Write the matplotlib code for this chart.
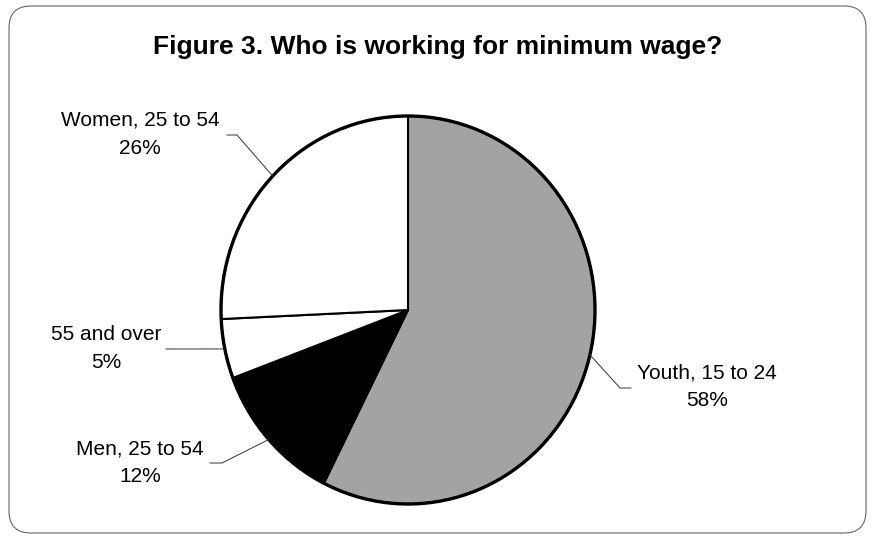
import numpy as np
import matplotlib.pyplot as plt
from matplotlib.patches import FancyBboxPatch, Ellipse

plt.rcParams['font.family'] = ['Liberation Sans', 'DejaVu Sans']

# data
groups = ["Youth, 15 to 24", "Men, 25 to 54", "55 and over", "Women, 25 to 54"]
shares = [58, 12, 5, 26]
colours = ["#a3a3a3", "#000000", "#ffffff", "#ffffff"]

W, H = 875, 539
fig = plt.figure(figsize=(W / 100, H / 100), dpi=100)

# pie geometry in pixels (scanned chart is slightly taller than wide)
cx, cy = 408, 310
rx, ry = 187, 194
pad = 1.05
pie_ax = fig.add_axes([(cx - rx * pad) / W, (H - cy - ry * pad) / H,
                       2 * rx * pad / W, 2 * ry * pad / H])
wedges, _ = pie_ax.pie(shares, colors=colours, startangle=90, counterclock=False,
                       wedgeprops=dict(edgecolor="black", linewidth=1.5))
pie_ax.set_aspect("auto")
pie_ax.set_xlim(-pad, pad)
pie_ax.set_ylim(-pad, pad)
pie_ax.add_patch(Ellipse((0, 0), 2, 2, fill=False, edgecolor="black", linewidth=2.4))

# overlay in pixel coordinates
ax = fig.add_axes([0, 0, 1, 1], facecolor="none")
ax.set_xlim(0, W)
ax.set_ylim(H, 0)
ax.axis("off")

ax.add_patch(FancyBboxPatch((9, 6), W - 18, H - 12,
                            boxstyle="round,pad=0,rounding_size=22",
                            fill=False, edgecolor="#666666", linewidth=0.8))

ax.text(W / 2, 47, "Figure 3. Who is working for minimum wage?",
        ha="center", va="center", fontsize=19, fontweight="bold")

# label layout: text centre, leader elbow points
label_pos = [(707, 387), (140, 463), (106, 348), (140, 134)]
elbows = [[(620, 388), (631, 388)],
          [(222, 463), (210, 463)],
          [(166, 349)],
          [(237, 135), (227, 135)]]

for w, name, val, (tx, ty), elb in zip(wedges, groups, shares, label_pos, elbows):
    mid = np.deg2rad((w.theta1 + w.theta2) / 2)
    ex = cx + rx * np.cos(mid)
    ey = cy - ry * np.sin(mid)
    pts = [(ex, ey)] + elb
    ax.plot([p[0] for p in pts], [p[1] for p in pts], color="#333333", linewidth=0.7)
    ax.text(tx, ty, f"{name}\n{val}%", ha="center", va="center",
            fontsize=15, linespacing=1.6)

fig.savefig("out.png", dpi=100)
